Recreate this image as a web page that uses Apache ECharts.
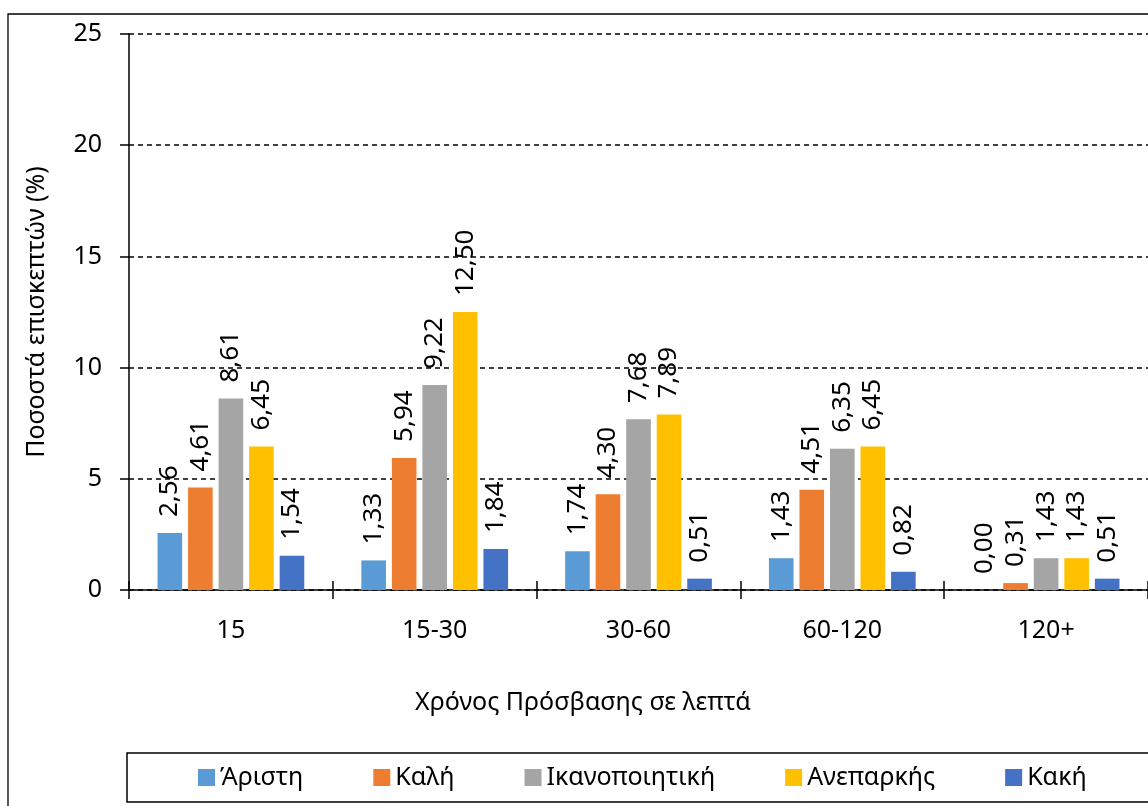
<!DOCTYPE html>
<html>
<head>
<meta charset="utf-8">
<script src="https://cdn.jsdelivr.net/npm/echarts@6/dist/echarts.min.js"></script>
<style>
  html, body { margin: 0; padding: 0; background: #fff; }
  #chart { width: 1148px; height: 806px; }
</style>
</head>
<body>
<div id="chart"></div>
<script>
// δεδομένα
const categories = ["15", "15-30", "30-60", "60-120", "120+"];
const aristi = [2.56, 1.33, 1.74, 1.43, 0.00];
const kali = [4.61, 5.94, 4.30, 4.51, 0.31];
const ikanopoiitiki = [8.61, 9.22, 7.68, 6.35, 1.43];
const aneparkis = [6.45, 12.50, 7.89, 6.45, 1.43];
const kaki = [1.54, 1.84, 0.51, 0.82, 0.51];
const yTicks = [0, 5, 10, 15, 20, 25];

const font = "Noto Sans";
const seriesDefs = [
  ["Άριστη", aristi, "#5B9BD5"],
  ["Καλή", kali, "#ED7D31"],
  ["Ικανοποιητική", ikanopoiitiki, "#A5A5A5"],
  ["Ανεπαρκής", aneparkis, "#FFC000"],
  ["Κακή", kaki, "#4472C4"]
];

const chart = echarts.init(document.getElementById("chart"));
chart.setOption({
  animation: false,
  textStyle: { fontFamily: font },
  grid: { left: 129, top: 34, bottom: 216, right: -11 },
  graphic: [
    {
      type: "rect",
      shape: { x: 8, y: 14, width: 1300, height: 1000 },
      style: { fill: "none", stroke: "#000", lineWidth: 1.3 },
      z: -1
    },
    // πλαίσιο υπομνήματος
    {
      type: "rect",
      shape: { x: 127, y: 753, width: 1100, height: 49 },
      style: { fill: "none", stroke: "#000", lineWidth: 1.5 },
      z: -1
    },
    {
      type: "text",
      x: 583, y: 703,
      style: {
        text: "Χρόνος Πρόσβασης σε λεπτά",
        fontFamily: font, fontSize: 25, fill: "#000",
        textAlign: "center", textVerticalAlign: "middle"
      }
    }
  ],
  legend: {
    left: 198, top: 765, right: 0,
    padding: 0,
    itemGap: 70, itemWidth: 17, itemHeight: 17,
    icon: "rect",
    textStyle: { fontFamily: font, fontSize: 25, color: "#000" },
    data: seriesDefs.map(d => d[0])
  },
  xAxis: [
    {
      type: "category",
      data: categories,
      axisLine: { lineStyle: { color: "#000", width: 1.5 } },
      axisTick: { show: true, length: 9, lineStyle: { color: "#000", width: 1.5 } },
      axisLabel: { color: "#000", fontSize: 25, margin: 28, fontFamily: font }
    },
    {
      type: "category",
      data: categories,
      position: "bottom",
      axisLine: { show: false },
      axisTick: { show: true, inside: true, length: 9, lineStyle: { color: "#000", width: 1.5 } },
      axisLabel: { show: false }
    }
  ],
  yAxis: {
    type: "value",
    min: yTicks[0], max: yTicks[yTicks.length - 1], interval: 5,
    name: "Ποσοστά επισκεπτών (%)",
    nameLocation: "middle",
    nameGap: 80,
    nameTextStyle: { fontSize: 25, color: "#000", fontFamily: font },
    axisLine: { show: true, lineStyle: { color: "#000", width: 1.5 } },
    axisTick: { show: true, length: 9, lineStyle: { color: "#000", width: 1.5 } },
    axisLabel: { color: "#000", fontSize: 25, margin: 27, fontFamily: font },
    splitLine: { lineStyle: { color: "#000", width: 1.5, type: [5, 4] } }
  },
  series: seriesDefs.map(([name, data, color]) => ({
    name: name,
    type: "bar",
    data: data,
    xAxisIndex: 0,
    barGap: "24%",
    barCategoryGap: "28%",
    itemStyle: { color: color },
    label: {
      show: true,
      position: "top",
      rotate: 90,
      align: "left",
      verticalAlign: "middle",
      distance: 16,
      fontSize: 26,
      fontFamily: font,
      color: "#000",
      formatter: p => p.value.toFixed(2).replace(".", ",")
    }
  }))
});
</script>
</body>
</html>
